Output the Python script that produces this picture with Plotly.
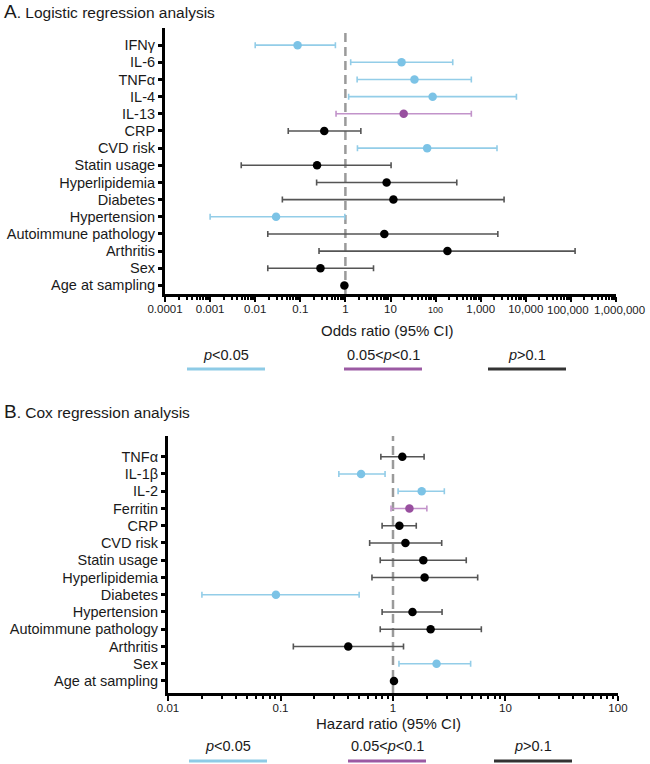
import math
import plotly.graph_objects as go

W, H = 650, 764
FONT = "Liberation Sans, Arial, sans-serif"

# ---------------- Panel A: logistic regression ----------------
a_labels = ["IFNγ", "IL-6", "TNFα", "IL-4", "IL-13", "CRP", "CVD risk", "Statin usage",
            "Hyperlipidemia", "Diabetes", "Hypertension", "Autoimmune pathology",
            "Arthritis", "Sex", "Age at sampling"]
a_or = [0.087, 17.6, 34, 86, 19.6, 0.34, 65, 0.235, 8.2, 11.6, 0.029, 7.3, 183, 0.28, 0.95]
a_lo = [0.010, 1.31, 1.82, 1.18, 0.62, 0.054, 1.85, 0.0049, 0.23, 0.04, 0.001, 0.019, 0.26, 0.019, 0.92]
a_hi = [0.60, 240, 620, 6200, 620, 2.2, 2300, 10.3, 295, 3300, 0.97, 2400, 124000, 4.2, 0.98]
a_sig = ["s", "s", "s", "s", "m", "n", "s", "n", "n", "n", "s", "n", "n", "n", "n"]
a_tickvals = [1e-4, 1e-3, 1e-2, 1e-1, 1, 10, 100, 1e3, 1e4, 1e5, 1e6]
a_ticktext = ["0.0001", "0.001", "0.01", "0.1", "1", "10",
              "<span style='font-size:9px'>100</span>", "1,000", "10,000", "100,000", "1,000,000"]
# the two rightmost labels are nudged apart (as in the original) to avoid collision
a_label_nudge = {1e5: -3, 1e6: 4}

# ---------------- Panel B: Cox regression ----------------
b_labels = ["TNFα", "IL-1β", "IL-2", "Ferritin", "CRP", "CVD risk", "Statin usage",
            "Hyperlipidemia", "Diabetes", "Hypertension", "Autoimmune pathology",
            "Arthritis", "Sex", "Age at sampling"]
b_hr = [1.21, 0.52, 1.8, 1.4, 1.14, 1.29, 1.86, 1.91, 0.091, 1.49, 2.16, 0.40, 2.44, 1.02]
b_lo = [0.78, 0.33, 1.11, 0.96, 0.80, 0.62, 0.77, 0.65, 0.020, 0.80, 0.77, 0.13, 1.13, 1.00]
b_hi = [1.89, 0.85, 2.86, 2.0, 1.61, 2.71, 4.48, 5.66, 0.50, 2.73, 6.1, 1.24, 4.9, 1.04]
b_sig = ["n", "s", "s", "m", "n", "n", "n", "n", "s", "n", "n", "n", "s", "n"]
b_tickvals = [0.01, 0.1, 1, 10, 100]
b_ticktext = ["0.01", "0.1", "1", "10", "100"]

legend_keys = ["s", "m", "n"]
legend_text = ["<i>p</i><0.05", "0.05<<i>p</i><0.1", "<i>p</i>>0.1"]

marker_col = {"s": "#7cc3e6", "m": "#984f9f", "n": "#000000"}
bar_col = {"s": "#93cde8", "m": "#c293ca", "n": "#555555"}
legend_col = {"s": "#8ecbe6", "m": "#9b5aa3", "n": "#333333"}

fig = go.Figure()


def add_panel(labels, est, lo, hi, sig, xa, ya):
    for k in legend_keys:
        idx = [i for i, s in enumerate(sig) if s == k]
        if not idx:
            continue
        fig.add_trace(go.Scatter(
            x=[est[i] for i in idx],
            y=[labels[i] for i in idx],
            mode="markers",
            marker=dict(color=marker_col[k], size=8.5, line=dict(width=0)),
            error_x=dict(type="data", symmetric=False,
                         array=[hi[i] - est[i] for i in idx],
                         arrayminus=[est[i] - lo[i] for i in idx],
                         color=bar_col[k], thickness=1.6, width=3),
            xaxis=xa, yaxis=ya, hoverinfo="x+y", showlegend=False,
        ))


add_panel(a_labels, a_or, a_lo, a_hi, a_sig, "x", "y")
add_panel(b_labels, b_hr, b_lo, b_hi, b_sig, "x2", "y2")

TICKFONT = dict(family=FONT, size=11.5, color="#1a1a1a")
axis_common = dict(
    showline=True, linecolor="black", linewidth=3, showgrid=False, zeroline=False,
    automargin=False, ticks="outside", tickcolor="black", tickfont=TICKFONT,
)

a_ticktext_axis = ["" if v in a_label_nudge else t for v, t in zip(a_tickvals, a_ticktext)]

fig.update_layout(
    width=W, height=H,
    margin=dict(l=0, r=0, t=0, b=0, pad=0),
    paper_bgcolor="white", plot_bgcolor="white",
    showlegend=False,
    font=dict(family=FONT, color="#1a1a1a"),
    xaxis=dict(axis_common, type="log", range=[-4.0005, 6.0005], domain=[165 / W, 616 / W],
               anchor="y", tickmode="array", tickvals=a_tickvals, ticktext=a_ticktext_axis,
               tickangle=0, ticklen=5, tickwidth=2, ticklabelstandoff=-3,
               minor=dict(dtick="D1", ticks="outside", ticklen=3, tickwidth=1.5,
                          tickcolor="black", showgrid=False)),
    yaxis=dict(axis_common, type="category", categoryorder="array",
               categoryarray=list(reversed(a_labels)), range=[-0.5, 15],
               domain=[1 - 294 / H, 1 - 28 / H], anchor="x",
               ticklen=4, tickwidth=2.5,
               tickfont=dict(family=FONT, size=14.5, color="#1a1a1a")),
    xaxis2=dict(axis_common, type="log", range=[-2.0005, 2.0005], domain=[168 / W, 618 / W],
                anchor="y2", tickmode="array", tickvals=b_tickvals, ticktext=b_ticktext,
                tickangle=0, ticklen=5, tickwidth=2, ticklabelstandoff=-3,
                minor=dict(dtick="D1", ticks="outside", ticklen=3, tickwidth=1.5,
                           tickcolor="black", showgrid=False)),
    yaxis2=dict(axis_common, type="category", categoryorder="array",
                categoryarray=list(reversed(b_labels)), range=[-0.7, 14.2],
                domain=[1 - 693 / H, 1 - 436 / H], anchor="x2",
                ticklen=4, tickwidth=2.5,
                tickfont=dict(family=FONT, size=14.5, color="#1a1a1a")),
)

shapes = []
# reference lines at ratio = 1
for xr, yr in (("x", "y domain"), ("x2", "y2 domain")):
    shapes.append(dict(type="line", xref=xr, yref=yr, x0=1, x1=1, y0=0, y1=1,
                       line=dict(color="#9a9a9a", width=2.5, dash="9px,5px"), layer="below"))

annotations = []
# nudged tick labels (placed on the axis scale)
for v, t in zip(a_tickvals, a_ticktext):
    if v in a_label_nudge:
        annotations.append(dict(text=t, x=math.log10(v), xref="x", y=1 - 310 / H, yref="paper",
                                xshift=a_label_nudge[v], showarrow=False,
                                xanchor="center", yanchor="middle", font=TICKFONT))
# panel titles
annotations.append(dict(text="<span style='font-size:19px'>A</span>. Logistic regression analysis",
                        x=2 / W, y=1 - 12 / H, xref="paper", yref="paper",
                        xanchor="left", yanchor="middle", showarrow=False,
                        font=dict(family=FONT, size=15.5, color="#1a1a1a")))
annotations.append(dict(text="<span style='font-size:19px'>B</span>. Cox regression analysis",
                        x=2 / W, y=1 - 412 / H, xref="paper", yref="paper",
                        xanchor="left", yanchor="middle", showarrow=False,
                        font=dict(family=FONT, size=15.5, color="#1a1a1a")))
# axis titles
annotations.append(dict(text="Odds ratio (95% CI)", x=387 / W, y=1 - 330 / H,
                        xref="paper", yref="paper", showarrow=False,
                        xanchor="center", yanchor="middle",
                        font=dict(family=FONT, size=15, color="#1a1a1a")))
annotations.append(dict(text="Hazard ratio (95% CI)", x=388 / W, y=1 - 723 / H,
                        xref="paper", yref="paper", showarrow=False,
                        xanchor="center", yanchor="middle",
                        font=dict(family=FONT, size=15, color="#1a1a1a")))

# custom legends
leg_centers_a = [226, 383, 527]
leg_centers_b = [228, 387, 533]
for centers, ty, ly in ((leg_centers_a, 355, 369), (leg_centers_b, 746, 761)):
    for c, k, t in zip(centers, legend_keys, legend_text):
        annotations.append(dict(text=t, x=c / W, y=1 - ty / H, xref="paper", yref="paper",
                                showarrow=False, xanchor="center", yanchor="middle",
                                font=dict(family=FONT, size=14.5, color="#1a1a1a")))
        shapes.append(dict(type="line", xref="paper", yref="paper",
                           x0=(c - 39) / W, x1=(c + 39) / W, y0=1 - ly / H, y1=1 - ly / H,
                           line=dict(color=legend_col[k], width=3)))

fig.update_layout(shapes=shapes, annotations=annotations)

fig.write_html("out.html", config={"displayModeBar": False},
               post_script="document.body.style.margin='0px';document.body.style.padding='0px';")
